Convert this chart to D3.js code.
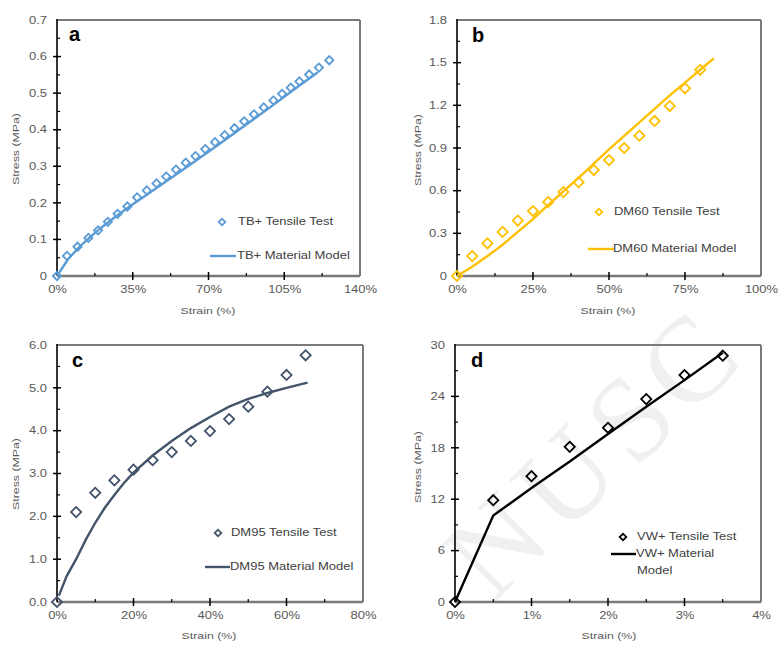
<!DOCTYPE html>
<html>
<head>
<meta charset="utf-8">
<script src="https://cdn.jsdelivr.net/npm/d3@7"></script>
<style>
  body { margin: 0; background: #fff; }
  svg { display: block; }
</style>
</head>
<body>
<svg id="chart" width="778" height="646"></svg>
<script>
// ---- data (strain in %, stress in MPa) ----
// a: TB+
let tbTestStrain  = [0, 4.6, 9.5, 14.5, 19, 23.5, 28, 32.5, 37, 41.5, 46, 50.5, 55, 59.5, 64, 68.5, 73, 77.5, 82, 86.5, 91, 95.5, 100, 104, 108, 112, 116.5, 121, 125.8];
let tbTestStress  = [0, 0.055, 0.080, 0.104, 0.125, 0.148, 0.170, 0.190, 0.215, 0.234, 0.253, 0.272, 0.291, 0.310, 0.328, 0.347, 0.366, 0.385, 0.404, 0.423, 0.442, 0.461, 0.480, 0.498, 0.515, 0.532, 0.551, 0.570, 0.590];
let tbModelStrain = [0, 5, 10, 15, 20, 25, 30, 35, 40, 50, 60, 70, 80, 90, 100, 110, 120.5];
let tbModelStress = [0, 0.045, 0.078, 0.105, 0.130, 0.153, 0.175, 0.196, 0.216, 0.257, 0.298, 0.340, 0.382, 0.425, 0.468, 0.512, 0.557];

// b: DM60
let dm60TestStrain  = [0, 5, 10, 15, 20, 25, 30, 35, 40, 45, 50, 55, 60, 65, 70, 75, 80];
let dm60TestStress  = [0, 0.14, 0.23, 0.31, 0.39, 0.457, 0.52, 0.59, 0.66, 0.745, 0.815, 0.90, 0.987, 1.09, 1.195, 1.32, 1.45];
let dm60ModelStrain = [0, 5, 10, 15, 20, 25, 30, 35, 40, 45, 50, 55, 60, 65, 70, 75, 80, 84.5];
let dm60ModelStress = [0, 0.065, 0.14, 0.22, 0.31, 0.40, 0.50, 0.595, 0.69, 0.79, 0.89, 0.985, 1.08, 1.175, 1.27, 1.36, 1.45, 1.53];

// c: DM95
let dm95TestStrain  = [0, 5, 10, 15, 20, 25, 30, 35, 40, 45, 50, 55, 60, 65];
let dm95TestStress  = [0, 2.10, 2.55, 2.84, 3.09, 3.31, 3.50, 3.76, 3.99, 4.27, 4.56, 4.91, 5.30, 5.76];
let dm95ModelStrain = [0.5, 2.5, 5, 7.5, 10, 12.5, 15, 17.5, 20, 25, 30, 35, 40, 45, 50, 55, 60, 65.5];
let dm95ModelStress = [0.15, 0.6, 1.0, 1.45, 1.85, 2.2, 2.5, 2.78, 3.02, 3.42, 3.76, 4.06, 4.32, 4.56, 4.74, 4.88, 5.0, 5.12];

// d: VW+
let vwTestStrain  = [0, 0.5, 1, 1.5, 2, 2.5, 3, 3.5];
let vwTestStress  = [0, 11.88, 14.69, 18.11, 20.34, 23.69, 26.49, 28.75];
let vwModelStrain = [0, 0.5, 1, 1.5, 2, 2.5, 3, 3.5];
let vwModelStress = [0, 10.1, 13.3, 16.4, 19.6, 22.8, 25.9, 29.1];

// tick values and labels
let aXTicks = [0, 35, 70, 105, 140],  aXLabels = ["0%", "35%", "70%", "105%", "140%"];
let aYTicks = [0, 0.1, 0.2, 0.3, 0.4, 0.5, 0.6, 0.7], aYLabels = ["0", "0.1", "0.2", "0.3", "0.4", "0.5", "0.6", "0.7"];
let bXTicks = [0, 25, 50, 75, 100],   bXLabels = ["0%", "25%", "50%", "75%", "100%"];
let bYTicks = [0, 0.3, 0.6, 0.9, 1.2, 1.5, 1.8], bYLabels = ["0", "0.3", "0.6", "0.9", "1.2", "1.5", "1.8"];
let cXTicks = [0, 20, 40, 60, 80],    cXLabels = ["0%", "20%", "40%", "60%", "80%"];
let cYTicks = [0, 1, 2, 3, 4, 5, 6],  cYLabels = ["0.0", "1.0", "2.0", "3.0", "4.0", "5.0", "6.0"];
let dXTicks = [0, 1, 2, 3, 4],        dXLabels = ["0%", "1%", "2%", "3%", "4%"];
let dYTicks = [0, 6, 12, 18, 24, 30], dYLabels = ["0", "6", "12", "18", "24", "30"];

let font = "'Liberation Sans', Arial, sans-serif";
let stretch = 1.3;   // the figure's text is set quite wide
let labelColor = "#595959";

let svg = d3.select("#chart");

let panels = [
  { letter: "a", box: { l: 57, r: 360, t: 20, b: 276 }, color: "#5b9bd5", mSize: 34,
    xTicks: aXTicks, xLabels: aXLabels, yTicks: aYTicks, yLabels: aYLabels,
    test: d3.zip(tbTestStrain, tbTestStress), model: d3.zip(tbModelStrain, tbModelStress),
    legend: { mx: 222, my: 222, lx1: 210, lx2: 236, ly: 256, tx: 238,
              test: ["TB+ Tensile Test"], model: ["TB+ Material Model"] },
    letterPos: [69, 41], yTitle: [16, 149], xTitle: [208, 311] },
  { letter: "b", box: { l: 457, r: 761, t: 20, b: 276 }, color: "#ffc000", mSize: 52,
    xTicks: bXTicks, xLabels: bXLabels, yTicks: bYTicks, yLabels: bYLabels,
    test: d3.zip(dm60TestStrain, dm60TestStress), model: d3.zip(dm60ModelStrain, dm60ModelStress),
    legend: { mx: 599, my: 212, lx1: 588, lx2: 614, ly: 249, tx: 614,
              test: ["DM60 Tensile Test"], model: ["DM60 Material Model"] },
    letterPos: [472, 42], yTitle: [418, 150], xTitle: [608, 311] },
  { letter: "c", box: { l: 57, r: 363, t: 345, b: 602 }, color: "#44546a", mSize: 52,
    xTicks: cXTicks, xLabels: cXLabels, yTicks: cYTicks, yLabels: cYLabels,
    test: d3.zip(dm95TestStrain, dm95TestStress), model: d3.zip(dm95ModelStrain, dm95ModelStress),
    legend: { mx: 218, my: 533, lx1: 205, lx2: 230, ly: 567, tx: 231,
              test: ["DM95 Tensile Test"], model: ["DM95 Material Model"] },
    letterPos: [72, 367], yTitle: [16, 474], xTitle: [209, 636] },
  { letter: "d", box: { l: 455, r: 761, t: 345, b: 602 }, color: "#000000", mSize: 52,
    xTicks: dXTicks, xLabels: dXLabels, yTicks: dYTicks, yLabels: dYLabels,
    test: d3.zip(vwTestStrain, vwTestStress), model: d3.zip(vwModelStrain, vwModelStress),
    legend: { mx: 623, my: 537, lx1: 611, lx2: 636, ly: 554, tx: 637,
              test: ["VW+ Tensile Test"], model: ["VW+ Material", "Model"] },
    letterPos: [471, 367], yTitle: [418, 467], xTitle: [609, 636] }
];

// faint watermark letters sitting behind panel d
let watermark = svg.append("g").attr("fill", "#f0f0f0")
  .attr("font-family", "'Liberation Serif', serif").attr("font-size", 120);
[["N", 495, 545], ["U", 565, 478], ["S", 630, 418], ["C", 688, 362]].forEach(function(w) {
  watermark.append("text").text(w[0])
    .attr("text-anchor", "middle").attr("dominant-baseline", "central")
    .attr("transform", "translate(" + w[1] + "," + w[2] + ") rotate(-45)");
});

panels.forEach(drawPanel);

function midpoints(ticks) {
  return d3.pairs(ticks).map(p => (p[0] + p[1]) / 2);
}

function drawPanel(p) {
  let box = p.box;
  let x = d3.scaleLinear().domain([0, d3.max(p.xTicks)]).range([box.l, box.r]);
  let y = d3.scaleLinear().domain([0, d3.max(p.yTicks)]).range([box.b, box.t]);
  let g = svg.append("g");

  // frame: grey top / right / bottom, black left axis
  g.append("line").attr("x1", box.l).attr("x2", box.r).attr("y1", box.t).attr("y2", box.t)
    .attr("stroke", "#7a7a7a").attr("stroke-width", 2);
  g.append("line").attr("x1", box.r).attr("x2", box.r).attr("y1", box.t).attr("y2", box.b)
    .attr("stroke", "#7a7a7a").attr("stroke-width", 2);

  // tick labels through d3 axes
  let xAxis = g.append("g").attr("transform", "translate(0," + box.b + ")")
    .call(d3.axisBottom(x).tickValues(p.xTicks).tickFormat((d, i) => p.xLabels[i]).tickSize(0).tickPadding(10));
  xAxis.select(".domain").remove();
  xAxis.selectAll("text").attr("fill", labelColor).attr("font-family", font).attr("font-size", 10)
    .attr("transform", "scale(" + stretch + ",1)");

  let yAxis = g.append("g").attr("transform", "translate(" + box.l + ",0)")
    .call(d3.axisLeft(y).tickValues(p.yTicks).tickFormat((d, i) => p.yLabels[i]).tickSize(0).tickPadding(10));
  yAxis.select(".domain").remove();
  yAxis.selectAll("text").attr("fill", labelColor).attr("font-family", font).attr("font-size", 10)
    .attr("x", -10 / stretch).attr("transform", "scale(" + stretch + ",1)");

  g.append("line").attr("x1", box.l).attr("x2", box.r).attr("y1", box.b).attr("y2", box.b)
    .attr("stroke", "#7a7a7a").attr("stroke-width", 2.5);
  g.append("line").attr("x1", box.l).attr("x2", box.l).attr("y1", box.t - 1).attr("y2", box.b)
    .attr("stroke", "#000").attr("stroke-width", 1.6);

  // major ticks cross the axis, minor ticks point inwards
  g.selectAll(".xmaj").data(p.xTicks.slice(1, -1)).enter().append("line")
    .attr("x1", d => x(d)).attr("x2", d => x(d)).attr("y1", box.b - 4).attr("y2", box.b + 4)
    .attr("stroke", "#000").attr("stroke-width", 1.5);
  g.selectAll(".xmin").data(midpoints(p.xTicks)).enter().append("line")
    .attr("x1", d => x(d)).attr("x2", d => x(d)).attr("y1", box.b - 3).attr("y2", box.b)
    .attr("stroke", "#000").attr("stroke-width", 1.2);
  g.selectAll(".ymaj").data(p.yTicks.slice(1, -1)).enter().append("line")
    .attr("x1", box.l - 4).attr("x2", box.l + 4).attr("y1", d => y(d)).attr("y2", d => y(d))
    .attr("stroke", "#000").attr("stroke-width", 1.5);
  g.selectAll(".ymin").data(midpoints(p.yTicks)).enter().append("line")
    .attr("x1", box.l).attr("x2", box.l + 3).attr("y1", d => y(d)).attr("y2", d => y(d))
    .attr("stroke", "#000").attr("stroke-width", 1.2);

  // axis titles
  g.append("text").text("Strain (%)")
    .attr("transform", "translate(" + p.xTitle[0] + "," + p.xTitle[1] + ") scale(" + stretch + ",1)")
    .attr("text-anchor", "middle").attr("dominant-baseline", "central")
    .attr("font-family", font).attr("font-size", 9.5).attr("fill", labelColor);
  g.append("text").text("Stress (MPa)")
    .attr("transform", "translate(" + p.yTitle[0] + "," + p.yTitle[1] + ") rotate(-90) scale(" + stretch + ",1)")
    .attr("text-anchor", "middle").attr("dominant-baseline", "central")
    .attr("font-family", font).attr("font-size", 9.5).attr("fill", labelColor);

  // panel letter
  g.append("text").text(p.letter)
    .attr("x", p.letterPos[0]).attr("y", p.letterPos[1])
    .attr("font-family", font).attr("font-weight", "bold").attr("font-size", 20).attr("fill", "#000");

  // model curve
  let line = d3.line().x(d => x(d[0])).y(d => y(d[1]));
  g.append("path").datum(p.model).attr("d", line)
    .attr("fill", "none").attr("stroke", p.color).attr("stroke-width", 2.4);

  // tensile test points (hollow diamonds)
  let diamond = d3.symbol().type(d3.symbolSquare).size(p.mSize);
  g.selectAll(".pt").data(p.test).enter().append("path")
    .attr("d", diamond)
    .attr("transform", d => "translate(" + x(d[0]) + "," + y(d[1]) + ") rotate(45)")
    .attr("fill", "none").attr("stroke", p.color).attr("stroke-width", 1.8);

  // legend
  let lg = p.legend;
  g.append("path").attr("d", d3.symbol().type(d3.symbolSquare).size(22))
    .attr("transform", "translate(" + lg.mx + "," + lg.my + ") rotate(45)")
    .attr("fill", "none").attr("stroke", p.color).attr("stroke-width", 1.8);
  g.append("line").attr("x1", lg.lx1).attr("x2", lg.lx2).attr("y1", lg.ly).attr("y2", lg.ly)
    .attr("stroke", p.color).attr("stroke-width", 2.4);
  lg.test.forEach(function(t, i) {
    g.append("text").text(t)
      .attr("transform", "translate(" + lg.tx + "," + (lg.my + i * 14) + ") scale(" + stretch + ",1)")
      .attr("dominant-baseline", "central")
      .attr("font-family", font).attr("font-size", 10).attr("fill", "#404040");
  });
  lg.model.forEach(function(t, i) {
    g.append("text").text(t)
      .attr("transform", "translate(" + (i === 0 ? lg.tx - 1 : lg.tx) + "," + (lg.ly + i * 17) + ") scale(" + stretch + ",1)")
      .attr("dominant-baseline", "central")
      .attr("font-family", font).attr("font-size", 10).attr("fill", "#404040");
  });
}
</script>
</body>
</html>
